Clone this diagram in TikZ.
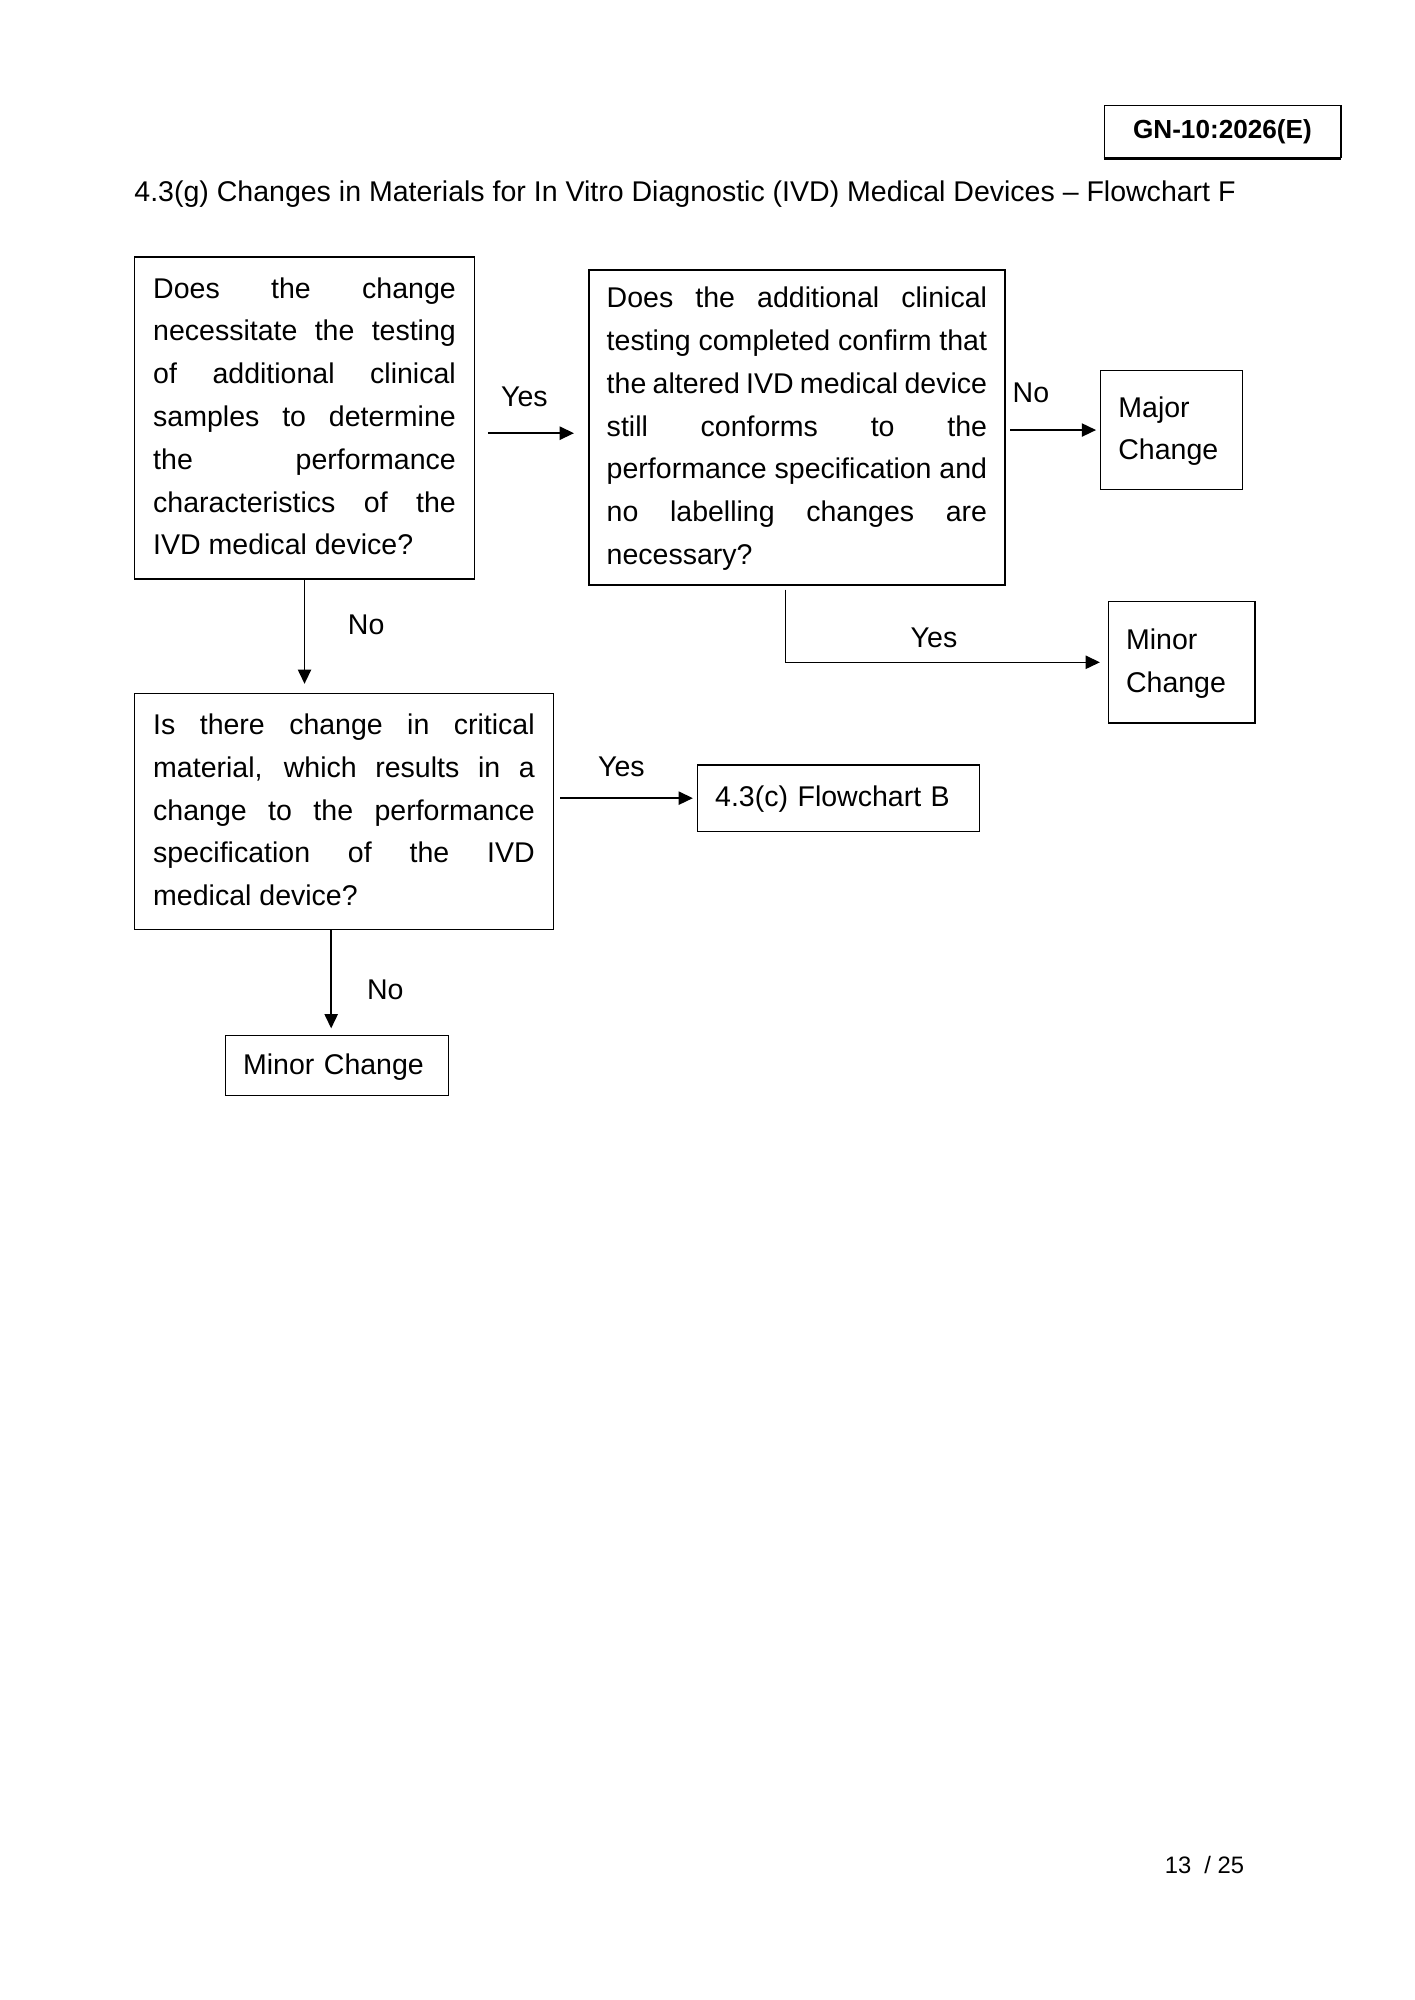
\documentclass[tikz,border=0pt]{standalone}
\usepackage{fontspec}
\setmainfont{Liberation Sans}
\usetikzlibrary{arrows.meta}

\begin{document}
\begin{tikzpicture}[x=0.53677pt,y=-0.53677pt,
    box/.style={draw,line width=0.6pt,anchor=north west,inner xsep=7.8pt,inner ysep=0pt,font=\fontsize{12}{18}\selectfont},
    lbl/.style={font=\fontsize{12}{18}\selectfont},
    arr/.style={line width=0.6pt,-{Triangle[length=6pt,width=5.6pt]}}]
    \useasboundingbox (0,0) rectangle (1109,1567.5);

    % header
    \node[draw,line width=0.6pt,anchor=north west,minimum width=99.3pt,minimum height=22pt,inner sep=0pt,font=\fontsize{11}{13}\selectfont\bfseries] (gn) at (865,82) {GN-10:2026(E)};
    \draw[line width=1.2pt] (gn.south west) -- (gn.south east);
    \draw[line width=0.9pt] (gn.south east) -- (gn.north east);
    \node[lbl,anchor=base west,inner sep=0pt] (title) at (105,158) {4.3(g) Changes in Materials for In Vitro Diagnostic (IVD) Medical Devices – Flowchart F};

    % questions
    \node[box,align=justify,text width=127.3pt,minimum height=135.3pt] (qtest) at (105,201) {\strut Does the change\linebreak necessitate the testing\linebreak of additional clinical\linebreak samples to determine\linebreak the performance\linebreak characteristics of the\linebreak IVD medical device?\strut};
    \node[box,align=justify,inner xsep=7.5pt,text width=160pt,minimum height=132.6pt] (qconf) at (461,211) {\strut Does the additional clinical\linebreak testing completed confirm that\linebreak the altered IVD medical device\linebreak still conforms to the\linebreak performance specification and\linebreak no labelling changes are\linebreak necessary?\strut};
    \node[box,align=justify,text width=160.5pt,minimum height=99.3pt] (qcrit) at (105,543) {\strut Is there change in critical\linebreak material, which results in a\linebreak change to the performance\linebreak specification of the IVD\linebreak medical device?\strut};

    % outcomes
    \node[box,align=left,inner xsep=7.5pt,text width=44.6pt,minimum height=49.9pt] (major) at (862,290) {\strut Major\\ Change\strut};
    \node[box,align=left,inner xsep=7.5pt,text width=46.7pt,minimum height=51pt] (minorR) at (868,471) {\strut Minor\\ Change\strut};
    \node[box,align=left,inner xsep=7.5pt,text width=103.6pt,minimum height=27.9pt] (fcB) at (546,599) {\strut 4.3(c) Flowchart B};
    \node[box,align=left,inner xsep=7.5pt,text width=78.9pt,minimum height=25.2pt] (minorL) at (176,811) {\strut Minor Change};

    % connectors
    \draw[arr,shorten <=5.4pt,shorten >=6pt] ([yshift=-6.4pt]qtest.east) -- ([yshift=-6.4pt]qtest.east -| qconf.west);
    \draw[arr,shorten <=2pt,shorten >=1.6pt] (major.west -| qconf.east) -- (major.west);
    \draw[arr,shorten <=1.6pt,shorten >=3.2pt] ([xshift=-4.8pt]qconf.south) |- (minorR.west);
    \draw[arr,shorten >=3.8pt] (qtest.south) -- (qtest.south |- qcrit.north);
    \draw[arr,shorten <=2.7pt,shorten >=1.6pt] (fcB.west -| qcrit.east) -- (fcB.west);
    \draw[arr,shorten >=2.7pt] ([xshift=-2.4pt]minorL.north |- qcrit.south) -- ([xshift=-2.4pt]minorL.north);

    % labels
    \node[lbl] (yes1) at (411,311) {Yes};
    \node[lbl] (no1) at (808,308) {No};
    \node[lbl] (yes2) at (732,500) {Yes};
    \node[lbl] (no2) at (287,490) {No};
    \node[lbl] (yes3) at (487,601) {Yes};
    \node[lbl] (no3) at (302,776) {No};

    % page number
    \node[font=\fontsize{10}{12}\selectfont] (page) at (944,1462) {13\ \ / 25};
\end{tikzpicture}
\end{document}
